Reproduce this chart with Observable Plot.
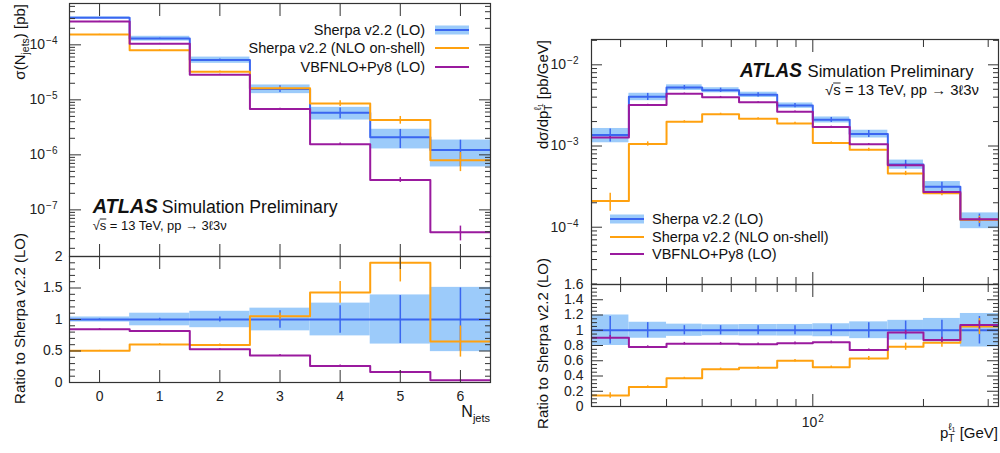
<!DOCTYPE html>
<html><head><meta charset="utf-8">
<script src="https://cdn.jsdelivr.net/npm/d3@7"></script>
<script src="https://cdn.jsdelivr.net/npm/@observablehq/plot@0.6"></script>
<style>
html,body{margin:0;padding:0;background:#fff;}
#root{position:relative;width:1000px;height:453px;overflow:hidden;background:#fff;}
</style>
</head><body><div id="root"></div>
<script>
// ===================== DATA =====================
// Left: N_jets distribution
const nJets = [0, 1, 2, 3, 4, 5, 6];
const njSherpaLO      = [3.1e-4, 1.3e-4, 5.3e-5, 1.58e-5, 5.8e-6, 2.1e-6, 1.23e-6];
const njSherpaNLO     = [1.54e-4, 8.0e-5, 3.23e-5, 1.63e-5, 8.6e-6, 4.3e-6, 8.0e-7];
const njVBFNLO        = [2.65e-4, 1.05e-4, 2.85e-5, 6.8e-6, 1.56e-6, 3.5e-7, 3.9e-8];
const njBandLO        = [0.04, 0.10, 0.13, 0.18, 0.26, 0.39, 0.51];   // relative band (Sherpa LO)
const njStatLO        = [0.01, 0.02, 0.04, 0.14, 0.22, 0.38, 0.50];   // relative stat. errors
const njStatNLO       = [0.01, 0.02, 0.03, 0.05, 0.12, 0.16, 0.38];
const njStatVBF       = [0.01, 0.01, 0.02, 0.03, 0.05, 0.10, 0.30];
const njRatioNLO      = [0.505, 0.605, 0.595, 1.05, 1.43, 1.90, 0.65];
const njRatioVBF      = [0.847, 0.816, 0.526, 0.43, 0.263, 0.168, 0.037];

// Right: leading-lepton pT distribution
const ptEdges         = [25, 31.6, 40, 50, 63, 80, 100, 126, 160, 200, 252, 320];
const ptSherpaLO      = [1.37e-3, 4.04e-3, 5.25e-3, 4.87e-3, 4.28e-3, 3.15e-3, 2.1e-3, 1.41e-3, 5.94e-4, 3.16e-4, 1.23e-4];
const ptSherpaNLO     = [2.1e-4, 1.06e-3, 1.99e-3, 2.46e-3, 2.17e-3, 1.9e-3, 1.09e-3, 9.0e-4, 4.6e-4, 2.62e-4, 1.24e-4];
const ptVBFNLO        = [1.27e-3, 3.2e-3, 4.4e-3, 4.0e-3, 3.45e-3, 2.64e-3, 1.72e-3, 1.05e-3, 5.8e-4, 2.71e-4, 1.25e-4];
const ptBandLO        = [0.20, 0.105, 0.08, 0.072, 0.075, 0.076, 0.085, 0.11, 0.13, 0.155, 0.22];
const ptStatLO        = [0.18, 0.10, 0.06, 0.06, 0.06, 0.06, 0.07, 0.10, 0.12, 0.13, 0.18];
const ptStatNLO       = [0.25, 0.06, 0.03, 0.03, 0.03, 0.03, 0.03, 0.04, 0.06, 0.07, 0.10];
const ptStatVBF       = [0.03, 0.02, 0.02, 0.02, 0.02, 0.02, 0.02, 0.02, 0.03, 0.04, 0.05];
const ptRatioNLO      = [0.145, 0.255, 0.372, 0.489, 0.507, 0.60, 0.515, 0.63, 0.784, 0.837, 1.048];
const ptRatioVBF      = [0.903, 0.78, 0.824, 0.824, 0.815, 0.828, 0.841, 0.74, 0.969, 0.872, 1.07];

// Labels / ticks
const seriesNames = ["Sherpa v2.2 (LO)", "Sherpa v2.2 (NLO on-shell)", "VBFNLO+Py8 (LO)"];
const njTicks = [0, 1, 2, 3, 4, 5, 6];
const njLogTicks = [1e-7, 1e-6, 1e-5, 1e-4];
const njRatioTicks = [0, 0.5, 1, 1.5, 2];
const ptXTicks = [100];
const ptXMinor = [30, 40, 50, 60, 70, 80, 90, 200, 300];
const ptLogTicks = [1e-4, 1e-3, 1e-2];
const ptRatioTicks = [0, 0.2, 0.4, 0.6, 0.8, 1, 1.2, 1.4, 1.6];

// ===================== STYLE =====================
const FONT = "'Liberation Sans', Arial, Helvetica, sans-serif";
const C_BLUE = "#3a66f0", C_BAND = "#9ccbfa", C_ORANGE = "#ffa10f", C_PURPLE = "#9a1a9e", C_AX = "#333";
const W = 1000, H = 453;
const root = document.getElementById("root");

const L_MAIN = {l: 69, r: 490, t: 3, b: 256};
const L_RAT  = {l: 69, r: 490, t: 256, b: 382};
const R_MAIN = {l: 591, r: 998, t: 39, b: 284};
const R_RAT  = {l: 591, r: 998, t: 284, b: 406};

function supify(svg) {
  const ns = "http://www.w3.org/2000/svg";
  svg.querySelectorAll("text").forEach(t => {
    const s = t.textContent;
    if (!s.includes("^")) return;
    const [b, e] = s.split("^");
    t.textContent = "";
    const a = document.createElementNS(ns, "tspan"); a.textContent = b; t.append(a);
    const c = document.createElementNS(ns, "tspan"); c.textContent = e;
    c.setAttribute("dy", "-0.5em"); c.setAttribute("dx", "1"); c.setAttribute("font-size", "10px"); t.append(c);
  });
}
const logFmt = d => "10^" + String(Math.round(Math.log10(d))).replace("-", "\u2212");

function panel(f, x, y, marks) {
  const svg = Plot.plot({
    width: W, height: H,
    marginLeft: f.l, marginRight: W - f.r, marginTop: f.t, marginBottom: H - f.b,
    x: {...x, label: null}, y: {...y, label: null},
    style: {background: "none", fontFamily: FONT, fontSize: "14px", color: "#222", overflow: "visible"},
    marks
  });
  svg.style.position = "absolute"; svg.style.left = "0px"; svg.style.top = "0px";
  supify(svg);
  root.append(svg);
}
const blank = () => "";
function yTicks(major, minor, majLen, minLen, fmt, pad) {
  const m = [
    Plot.axisY(major, {anchor: "left", tickSize: -majLen, tickFormat: blank, stroke: C_AX}),
    Plot.axisY(major, {anchor: "right", tickSize: -majLen, tickFormat: blank, stroke: C_AX}),
    Plot.axisY(minor, {anchor: "left", tickSize: -minLen, tickFormat: blank, stroke: C_AX}),
    Plot.axisY(minor, {anchor: "right", tickSize: -minLen, tickFormat: blank, stroke: C_AX})
  ];
  if (fmt) m.push(Plot.axisY(major, {anchor: "left", tickSize: 0, tickPadding: pad, tickFormat: fmt}));
  return m;
}
function xTicks(major, minor, majLen, minLen, fmt, pad) {
  const m = [
    Plot.axisX(major, {anchor: "top", tickSize: -majLen, tickFormat: blank, stroke: C_AX}),
    Plot.axisX(major, {anchor: "bottom", tickSize: -majLen, tickFormat: blank, stroke: C_AX})
  ];
  if (minor.length) m.push(
    Plot.axisX(minor, {anchor: "top", tickSize: -minLen, tickFormat: blank, stroke: C_AX}),
    Plot.axisX(minor, {anchor: "bottom", tickSize: -minLen, tickFormat: blank, stroke: C_AX}));
  if (fmt) m.push(Plot.axisX(major, {anchor: "bottom", tickSize: 0, tickPadding: pad, tickFormat: fmt}));
  return m;
}
function logMinor(lo, hi) {
  const out = [];
  for (let d = Math.floor(Math.log10(lo)); d <= Math.ceil(Math.log10(hi)); d++)
    for (let k = 2; k <= 9; k++) { const v = k * Math.pow(10, d); if (v > lo && v < hi) out.push(v); }
  return out;
}
function stepPts(lo, hi, vals) {
  const p = vals.map((v, i) => ({x: lo[i], y: v}));
  p.push({x: hi[hi.length - 1], y: vals[vals.length - 1]});
  return p;
}
function histMarks(lo, hi, ctr, vals, stat, color, sw = 2) {
  return [
    Plot.line(stepPts(lo, hi, vals), {x: "x", y: "y", curve: "step-after", stroke: color, strokeWidth: sw, clip: true}),
    Plot.ruleX(vals.map((v, i) => ({x: ctr[i], y1: v * (1 - stat[i]), y2: v * (1 + stat[i])})),
      {x: "x", y1: "y1", y2: "y2", stroke: color, strokeWidth: 1.5, clip: true})
  ];
}
function bandMarks(lo, hi, vals, rel) {
  return Plot.rect(vals.map((v, i) => ({x1: lo[i], x2: hi[i], y1: v * (1 - rel[i]), y2: v * (1 + rel[i])})),
    {x1: "x1", x2: "x2", y1: "y1", y2: "y2", fill: C_BAND, clip: true});
}

// ===================== LEFT PANEL =====================
{
  const lo = nJets.map(n => n - 0.5), hi = nJets.map(n => n + 0.5), ctr = nJets;
  const xs = {type: "linear", domain: [-0.5, 6.5]};
  const yDom = [1.42e-8, 5.64e-4];
  panel(L_MAIN, xs, {type: "log", domain: yDom}, [
    bandMarks(lo, hi, njSherpaLO, njBandLO),
    histMarks(lo, hi, ctr, njSherpaLO, njStatLO, C_BLUE),
    histMarks(lo, hi, ctr, njSherpaNLO, njStatNLO, C_ORANGE),
    histMarks(lo, hi, ctr, njVBFNLO, njStatVBF, C_PURPLE),
    Plot.frame({stroke: C_AX, strokeWidth: 1.2}),
    ...xTicks(njTicks, [], 12, 6, null),
    ...yTicks(njLogTicks, logMinor(...yDom), 12, 6, logFmt, 12)
  ]);
  const ones = nJets.map(() => 1);
  const rMinor = d3.range(0, 21).map(i => i / 10).filter(v => Math.abs(v * 2 - Math.round(v * 2)) > 1e-6);
  panel(L_RAT, xs, {type: "linear", domain: [0, 2]}, [
    bandMarks(lo, hi, ones, njBandLO),
    histMarks(lo, hi, ctr, ones, njStatLO, C_BLUE),
    histMarks(lo, hi, ctr, njRatioNLO, njStatNLO, C_ORANGE),
    histMarks(lo, hi, ctr, njRatioVBF, njStatVBF, C_PURPLE),
    Plot.frame({stroke: C_AX, strokeWidth: 1.2}),
    ...xTicks(njTicks, [], 12, 6, d => String(d), 9),
    ...yTicks(njRatioTicks, rMinor, 12, 6, d => d3.format("~g")(d), 7)
  ]);
}

// ===================== RIGHT PANEL =====================
{
  const lo = ptEdges.slice(0, -1), hi = ptEdges.slice(1), ctr = lo.map((a, i) => Math.sqrt(a * hi[i]));
  const xs = {type: "log", domain: [25, 320]};
  const yDom = [1.97e-5, 2.05e-2];
  panel(R_MAIN, xs, {type: "log", domain: yDom}, [
    bandMarks(lo, hi, ptSherpaLO, ptBandLO),
    histMarks(lo, hi, ctr, ptSherpaLO, ptStatLO, C_BLUE),
    histMarks(lo, hi, ctr, ptSherpaNLO, ptStatNLO, C_ORANGE),
    histMarks(lo, hi, ctr, ptVBFNLO, ptStatVBF, C_PURPLE),
    Plot.frame({stroke: C_AX, strokeWidth: 1.2}),
    ...xTicks(ptXTicks, ptXMinor, 12, 7, null),
    ...yTicks(ptLogTicks, logMinor(...yDom), 11, 6, logFmt, 13)
  ]);
  const ones = ptSherpaLO.map(() => 1);
  const rMinor = d3.range(0, 33).map(i => i / 20).filter(v => Math.abs(v * 5 - Math.round(v * 5)) > 1e-6);
  panel(R_RAT, xs, {type: "linear", domain: [0, 1.6]}, [
    bandMarks(lo, hi, ones, ptBandLO),
    histMarks(lo, hi, ctr, ones, ptStatLO, C_BLUE),
    histMarks(lo, hi, ctr, ptRatioNLO, ptStatNLO, C_ORANGE),
    histMarks(lo, hi, ctr, ptRatioVBF, ptStatVBF, C_PURPLE),
    Plot.frame({stroke: C_AX, strokeWidth: 1.2}),
    ...xTicks(ptXTicks, ptXMinor, 12, 7, d => "10^" + Math.round(Math.log10(d)), 11),
    ...yTicks(ptRatioTicks, rMinor, 12, 6, d => d3.format("~g")(d), 8)
  ]);
}

// ===================== TEXT OVERLAY =====================
const ov = d3.select(root).append("svg").attr("width", W).attr("height", H)
  .style("position", "absolute").style("left", "0px").style("top", "0px")
  .attr("font-family", FONT).attr("fill", "#111");

function vtitle(x, yTop, parts, size) {
  const t = ov.append("text").attr("transform", `translate(${x},${yTop}) rotate(-90)`)
    .attr("text-anchor", "end").attr("font-size", size);
  parts.forEach(p => t.append("tspan").attr("dy", p.dy || 0).attr("dx", p.dx || 0).attr("font-size", p.fs || size).text(p.t));
  return t;
}
vtitle(24.5, 4, [{t: "σ(N"}, {t: "jets", dy: 4, fs: 10.5}, {t: ") [pb]", dy: -4}], 15);
vtitle(24.5, 233, [{t: "Ratio to Sherpa v2.2 (LO)"}], 15);
vtitle(548, 40, [{t: "dσ/dp"}, {t: "T", dy: 4, fs: 10}, {t: "ℓ", dy: -11, dx: -6, fs: 10}, {t: "1", dy: 2, fs: 7}, {t: " [pb/GeV]", dy: 5}], 15);
vtitle(548, 258, [{t: "Ratio to Sherpa v2.2 (LO)"}], 15);

// x titles
{
  const t = ov.append("text").attr("x", 490).attr("y", 417).attr("text-anchor", "end").attr("font-size", 16);
  t.append("tspan").text("N"); t.append("tspan").attr("dy", 5).attr("font-size", 11).text("jets");
  const u = ov.append("text").attr("x", 998).attr("y", 438).attr("text-anchor", "end").attr("font-size", 15);
  u.append("tspan").text("p"); u.append("tspan").attr("dy", 4).attr("font-size", 10).text("T");
  u.append("tspan").attr("dy", -12).attr("dx", -6).attr("font-size", 10).text("ℓ");
  u.append("tspan").attr("dy", 2).attr("font-size", 7).text("1");
  u.append("tspan").attr("dy", 6).text(" [GeV]");
}

// ATLAS labels
function atlas(x, y, sizes, widths, x2, y2, w3, x3) {
  ov.append("text").attr("x", x).attr("y", y).attr("font-size", sizes[0]).attr("font-weight", "bold")
    .attr("font-style", "italic").attr("textLength", widths[0]).attr("lengthAdjust", "spacingAndGlyphs").text("ATLAS");
  ov.append("text").attr("x", x2).attr("y", y).attr("font-size", sizes[1])
    .attr("textLength", widths[1]).attr("lengthAdjust", "spacingAndGlyphs").text("Simulation Preliminary");
  const t = ov.append("text").attr("x", x3).attr("y", y2).attr("font-size", sizes[2])
    .attr("textLength", w3).attr("lengthAdjust", "spacingAndGlyphs")
    .text("√s = 13 TeV, pp → 3ℓ3ν");
  // overline on the "s" of √s
  try {
    const r = t.node().getExtentOfChar(1);
    const r0 = t.node().getExtentOfChar(0);
    ov.append("line").attr("x1", r.x).attr("x2", r.x + r.width).attr("y1", r0.y + 1.5).attr("y2", r0.y + 1.5)
      .attr("stroke", "#111").attr("stroke-width", 0.9);
  } catch (e) {}
}
atlas(92.7, 212.5, [21, 18, 13], [65, 176], 161.7, 229.5, 134, 92.7);
atlas(740, 77, [20, 17, 14], [62, 166], 807.5, 94.5, 154, 825);

// Legends
const colors = [C_BLUE, C_ORANGE, C_PURPLE];
function legend(sx, ys, tx, anchor) {
  seriesNames.forEach((name, i) => {
    const y = ys[i];
    if (i === 0) ov.append("rect").attr("x", sx).attr("y", y - 4.5).attr("width", 34).attr("height", 9).attr("fill", C_BAND);
    ov.append("line").attr("x1", sx).attr("x2", sx + 34).attr("y1", y).attr("y2", y)
      .attr("stroke", colors[i]).attr("stroke-width", 2);
    ov.append("text").attr("x", tx).attr("y", y + 5).attr("text-anchor", anchor).attr("font-size", 14.5).text(name);
  });
}
legend(435, [30, 48, 67], 425, "end");
legend(610, [219, 237, 254], 652, "start");
</script>
</body></html>
